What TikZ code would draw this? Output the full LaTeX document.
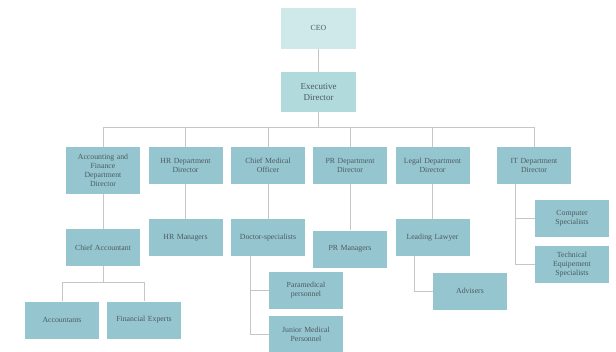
\documentclass[tikz,border=0pt]{standalone}
\usepackage{fontspec}
\setmainfont{Liberation Serif}
\usepackage{tikz}
\usetikzlibrary{positioning}

\definecolor{ceofill}{HTML}{CFE8EA}
\definecolor{execfill}{HTML}{B1DADD}
\definecolor{deptfill}{HTML}{95C6D0}
\definecolor{labeltext}{HTML}{4D5A60}
\definecolor{linkgray}{HTML}{C6C6C6}

\begin{document}
\begin{tikzpicture}[x=1pt, y=-1pt,
  post/.style = {shape = rectangle, fill = deptfill, minimum width = 74pt, minimum height = 37pt, text width = 70pt, align = center, inner sep = 1pt, text = labeltext, font = \fontsize{7.8}{9}\selectfont},
  link/.style = {draw = linkgray, line width = 0.9pt}]
\useasboundingbox (0,0) rectangle (616,351);
\node[post, fill = ceofill, minimum width = 75pt, minimum height = 41pt] (ceo) at (318.5,28) {CEO};
\node[post, fill = execfill, minimum width = 75pt, minimum height = 40pt, font = \fontsize{9}{10.5}\selectfont] (exec) at (318.5,92) {Executive\\Director};
% department heads
\node[post, minimum height = 47pt] (acc) at (103,170.5) {Accounting and\\Finance\\Department\\Director};
\node[post] (hrd) at (185.5,165.5) {HR Department\\Director};
\node[post] (cmo) at (268,165.5) {Chief Medical\\Officer};
\node[post] (prd) at (350,165.5) {PR Department\\Director};
\node[post] (legal) at (432.5,165.5) {Legal Department\\Director};
\node[post] (itd) at (534,165.5) {IT Department\\Director};
% second level
\node[post] (chiefacc) at (103,247.5) {Chief Accountant};
\node[post] (hrman) at (185.5,237.5) {HR Managers};
\node[post] (docs) at (268,237.5) {Doctor-specialists};
\node[post] (prman) at (350,249) {PR Managers};
\node[post] (lawyer) at (432.5,237.5) {Leading Lawyer};
\node[post] (comp) at (572,218.5) {Computer\\Specialists};
\node[post] (tech) at (572,264.5) {Technical\\Equipement\\Specialists};
% third level
\node[post] (accountants) at (62,320) {Accountants};
\node[post] (finexp) at (144,320) {Financial Experts};
\node[post] (paramed) at (306,290) {Paramedical\\personnel};
\node[post] (junior) at (306,334.5) {Junior Medical\\Personnel};
\node[post] (advisers) at (470,291) {Advisers};

\coordinate (bus) at (318.5,127);
\coordinate (accbus) at (103,282);
\begin{scope}[link]
\draw (ceo) -- (exec);
\draw (exec) -- (bus);
\foreach \head in {acc,hrd,cmo,prd,legal,itd}
  \draw (\head.north) |- (bus);
\draw (hrd) -- (hrman);
\draw (cmo) -- (docs);
\draw (prd) -- (prman);
\draw (legal) -- (lawyer);
\draw (acc) -- (chiefacc);
\draw (chiefacc) -- (accbus);
\draw (accountants.north) |- (accbus);
\draw (finexp.north) |- (accbus);
\draw ([xshift=-18pt]docs.south) |- (paramed.west);
\draw ([xshift=-18pt]docs.south) |- (junior.west);
\draw ([xshift=-18pt]lawyer.south) |- (advisers.west);
\draw ([xshift=-19pt]itd.south) |- (comp.west);
\draw ([xshift=-19pt]itd.south) |- (tech.west);
\end{scope}
\end{tikzpicture}
\end{document}
